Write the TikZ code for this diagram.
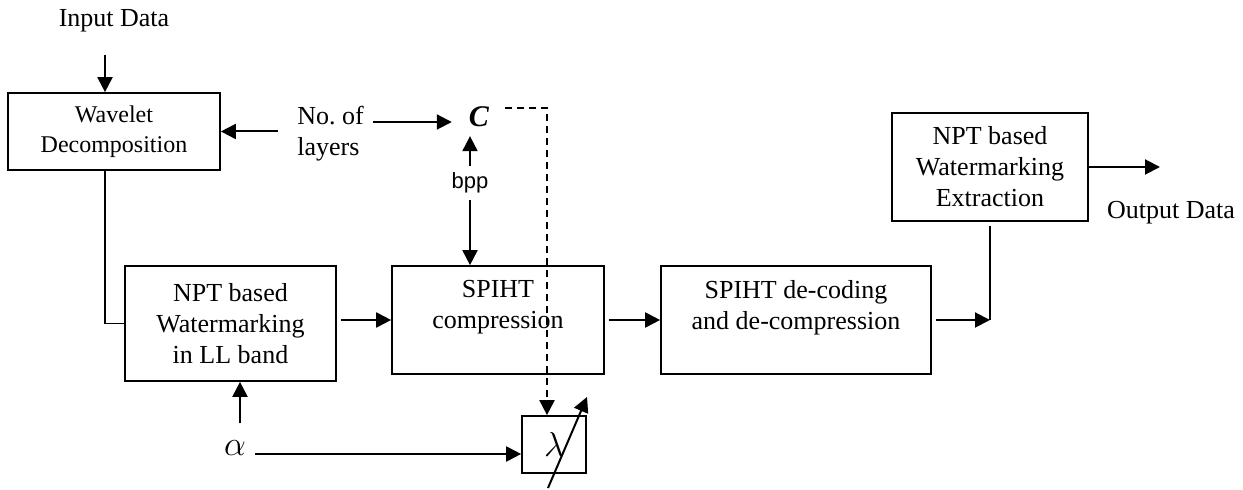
\documentclass[tikz,border=0pt]{standalone}
\usepackage{fontspec}
\setmainfont{Liberation Serif}
\newfontfamily\arialfont{Liberation Sans}
\usetikzlibrary{arrows.meta}

\begin{document}
\begin{tikzpicture}
			[x=0.5pt,y=-0.5pt,
			font=\fontsize{13}{15.5}\selectfont,
			box/.style={draw,line width=0.85pt,align=center,inner sep=0pt},
			arr/.style={line width=1pt,-{Triangle[length=7.5pt,width=7.5pt]}},
			dasharr/.style={arr,dash pattern=on 3.5pt off 2.5pt},
			conn/.style={line width=0.65pt},
			sym/.style={font=\fontsize{16}{18}\selectfont}]
			\useasboundingbox (0,0) rectangle (1243,490);
			\node[box,minimum width=106pt,minimum height=38.5pt,font=\fontsize{12}{15}\selectfont] (wave) at (114,131.5) {Wavelet\\Decomposition};
			\node[box,minimum width=105.5pt,minimum height=57.5pt] (embed) at (230.5,323.5) {NPT based\\Watermarking\\in LL band};
			\node[box,minimum width=106pt,minimum height=54pt] (comp) at (498,320) {SPIHT\\compression\\\mbox{}};
			\node[box,minimum width=135pt,minimum height=54pt] (decomp) at (796,320) {SPIHT de-coding\\and de-compression\\\mbox{}};
			\node[box,minimum width=98pt,minimum height=54pt] (extract) at (990,167) {NPT based\\Watermarking\\Extraction};
			\node[box,sym,minimum width=32pt,minimum height=28.5pt] (lam) at (554,444.5) {$\lambda$};
			\node (input) at (114,21) {Input Data};
			\node[align=left,anchor=west,inner sep=0pt] (layers) at (297,134) {No.\ of\\layers};
			\node[font=\fontsize{15}{17}\selectfont] (cval) at (479,117) {\textbf{\textit{C}}};
			\node[font=\arialfont\fontsize{11}{13}\selectfont] (bpp) at (470,183) {bpp};
			\node[sym] (alpha) at (235,448) {$\alpha$};
			\node (outdata) at (1171,213) {Output Data};
			\coordinate (inarr) at (105,55);
			\coordinate (join) at (decomp.east -| extract.south);
			\coordinate (outend) at (1160,167);
			\draw[arr] (inarr) -- (inarr |- wave.north);
			\draw[arr] ([xshift=-9.5pt]layers.west |- wave.east) -- (wave.east);
			\draw[arr] ([shift={(76,-12)}]layers.west) -- ([shift={(-10,5)}]cval.west);
			\draw[dasharr] ([shift={(9,-9)}]cval.east) -| ([xshift=-3.5pt]lam.north);
			\draw[arr] (bpp.north) -- ([yshift=-1pt]bpp.north |- cval.south);
			\draw[arr] (bpp.south) -- (bpp.south |- comp.north);
			\draw[conn] ([xshift=-4.5pt]wave.south) |- (embed.west);
			\draw[arr] ([xshift=2pt]embed.east |- comp.west) -- (comp.west);
			\draw[arr] ([xshift=2pt]comp.east) -- (decomp.west);
			\draw[arr] ([xshift=2pt]decomp.east) -- (join);
			\draw[conn] ([yshift=-2pt]extract.south) -- (join);
			\draw[arr] (extract.east) -- (outend);
			\draw[arr] ([shift={(5,-10)}]alpha.north) -- ([xshift=2.5pt]alpha.north |- embed.south);
			\draw[arr] ([shift={(2,6)}]alpha.east) -- ([yshift=-3pt]alpha.east -| lam.west);
			\draw[arr] ([shift={(-6,43.5)}]lam.center) -- ([shift={(33,-47.5)}]lam.center);
		\end{tikzpicture}
\end{document}
